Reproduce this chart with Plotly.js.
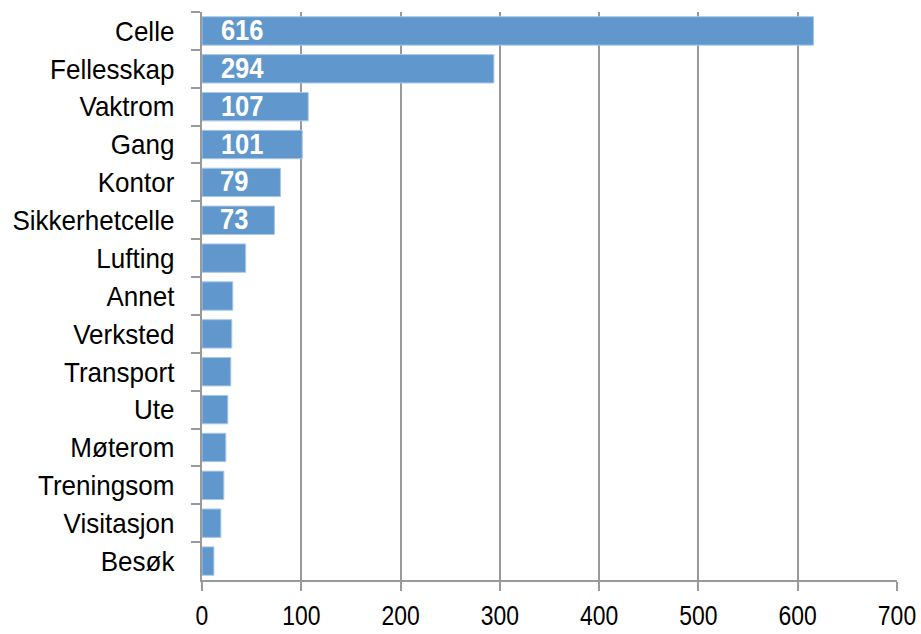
<!DOCTYPE html>
<html>
<head>
<meta charset="utf-8">
<script src="https://cdn.plot.ly/plotly-3.0.1.min.js"></script>
<style>html,body{margin:0;padding:0;background:#fff;}#chart{width:921px;height:634px;}</style>
</head>
<body>
<div id="chart"></div>
<script>
const categories = ["Celle","Fellesskap","Vaktrom","Gang","Kontor","Sikkerhetcelle","Lufting","Annet","Verksted","Transport","Ute","Møterom","Treningsom","Visitasjon","Besøk"];
const values = [616,294,107,101,79,73,44,31,30,29,26,24,22,19,12];
const labelled = [true,true,true,true,true,true,false,false,false,false,false,false,false,false,false];
const xTicks = [0,100,200,300,400,500,600,700];

const FONT = '"Liberation Sans Narrow", "Arial Narrow", "Liberation Sans", Arial, sans-serif';

const trace = {
  type: 'bar',
  orientation: 'h',
  y: categories,
  x: values,
  marker: {color: '#6097CC', line: {color: '#A9C8EA', width: 1}},
  hoverinfo: 'x+y'
};

const annotations = categories.map((c,i) => labelled[i] ? {
  x: 0, y: c, xref: 'x', yref: 'y', xanchor: 'left', yanchor: 'middle',
  xshift: 14, yshift: 1, text: '<b>' + values[i] + '</b>', showarrow: false,
  font: {family: FONT, size: 29, color: '#ffffff'}
} : null).filter(a => a);

const layout = {
  width: 921, height: 634,
  margin: {l: 202, r: 24, t: 12, b: 54},
  paper_bgcolor: '#ffffff', plot_bgcolor: '#ffffff',
  bargap: 0.25,
  showlegend: false,
  font: {family: FONT, size: 28, color: '#000'},
  xaxis: {
    range: [0, 700], tickvals: xTicks, ticktext: xTicks.map(String),
    showgrid: true, gridcolor: '#999999', gridwidth: 2,
    zeroline: false, showline: true, linecolor: '#999999', linewidth: 2,
    ticks: 'outside', ticklen: 9, tickwidth: 2, tickcolor: '#999999',
    tickfont: {family: FONT, size: 27, color: '#000'}, ticklabelstandoff: 2,
    ticklabeloverflow: 'allow', fixedrange: true
  },
  yaxis: {
    autorange: 'reversed', type: 'category',
    showgrid: false, zeroline: false, showline: true, linecolor: '#999999', linewidth: 2,
    ticks: 'outside', tickson: 'boundaries', ticklen: 9, tickwidth: 2, tickcolor: '#999999',
    tickfont: {family: FONT, size: 28, color: '#000'}, ticklabelstandoff: 20, fixedrange: true
  },
  annotations: annotations
};

// horizontally condense text around its anchor point (no narrow font installed)
function condense(selector, ratio) {
  document.querySelectorAll(selector).forEach(el => {
    const X = parseFloat(el.getAttribute('x')) || 0;
    const T = el.getAttribute('transform') || '';
    el.setAttribute('transform', (T + ' translate(' + X + ',0) scale(' + ratio + ',1) translate(' + (-X) + ',0)').trim());
  });
}

Plotly.newPlot('chart', [trace], layout, {displayModeBar: false, staticPlot: true}).then(() => {
  condense('#chart .ytick text', 0.93);
  condense('#chart .xtick text', 0.85);
  condense('#chart .annotation-text', 0.88);
});
</script>
</body>
</html>
